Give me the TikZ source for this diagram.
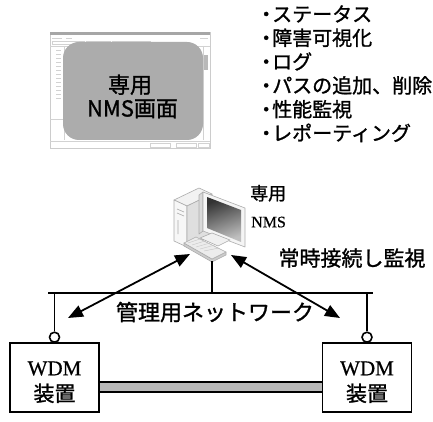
\documentclass[tikz,border=0pt]{standalone}
\usepackage{fontspec}
\usepackage{tikz}
\usetikzlibrary{shapes.geometric, arrows, arrows.meta, positioning}
\newfontfamily\jp[FakeBold=1.2]{Noto Sans CJK JP}
\newfontfamily\tms[FakeBold=0.6]{Liberation Serif}
\tikzstyle{wdmbox} = [rectangle, draw=black, line width=1.8pt, minimum width=89pt, minimum height=69pt, inner sep=0pt]
\tikzstyle{wdmtext} = [align=center, inner sep=0pt, font=\fontsize{21}{26}\selectfont]
\tikzstyle{port} = [circle, draw=black, line width=1.6pt, fill=white, minimum size=10pt, inner sep=0pt]
\tikzstyle{bus} = [line width=1.8pt]
\tikzstyle{arrow} = [line width=1.8pt, <->, >={Stealth[length=15pt,width=12pt,inset=0pt]}]
\tikzstyle{pcface} = [draw=gray!65, line width=0.6pt, line join=round]
\tikzstyle{shot} = [draw=gray!35, line width=0.5pt]

\begin{document}
\begin{tikzpicture}[x=1pt, y=-1pt]
  \useasboundingbox (0,0) rectangle (433,422);

  % NMS screen snapshot
  \node (screen) [rectangle, draw=gray!40, fill=white, minimum width=160pt, minimum height=116pt, inner sep=0pt] at (130,90) {};
  \fill[gray!70] (50,32) rectangle (210,35);
  \draw[shot] (52,38) -- (62,38) (66,38) -- (72,38) (200,38) -- (208,38);
  \draw[shot] (52,41) rectangle (84,44) (86,41) rectangle (110,44) (112,41) rectangle (150,44);
  \draw[shot] (50,46) -- (210,46) (64,46) -- (64,140);
  \foreach \k in {50,54,...,98}
    \draw[shot] (56,\k) -- (61,\k);
  \draw[shot] (50,119) -- (64,119);
  \fill[gray!55] (203,55) rectangle (208,70);
  \draw[shot] (203,46) -- (203,140) (50,141) -- (210,141);
  \draw[shot] (150,143) rectangle (170,147) (176,143) rectangle (196,147) (198,143) rectangle (209,147);
  \node (panel) [rectangle, rounded corners=16pt, fill=gray!65, minimum width=140pt, minimum height=98pt] at (133,91) {};
  \node (panel1) [anchor=base, font=\jp\fontsize{22}{24}\selectfont] at (130,93) {専用};
  \node (panel2) [anchor=base, font=\jp\fontsize{22}{24}\selectfont] at (132.5,116.5) {NMS画面};

  % function list
  \foreach \txt [count=\i] in {ステータス, 障害可視化, ログ, パスの追加、削除, 性能監視, レポーティング}
    \node (item\i) [anchor=base west, inner sep=0pt, font=\jp\fontsize{20}{24}\selectfont] at (256,{21.6+23.8*(\i-1)}) {・\kern-4pt\txt};

  % NMS computer: tower
  \draw[pcface, fill=gray!10] (174,200) -- (199,188) -- (212,194) -- (187,206) -- cycle;
  \draw[pcface, fill=gray!6] (174,200) -- (187,206) -- (187,247) -- (174,241) -- cycle;
  \draw[pcface, fill=gray!25] (187,206) -- (212,194) -- (212,235) -- (187,247) -- cycle;
  \draw[pcface] (177,209) -- (184,212) (177,213) -- (184,216) (178,220) -- (178,234);
  % monitor
  \draw[pcface, fill=gray!30] (199,195) -- (203,192) -- (203,231) -- (199,234) -- cycle;
  \draw[pcface, fill=gray!8] (203,192) -- (245,208) -- (245,247) -- (203,231) -- cycle;
  \shade[top color=black!80, bottom color=black!25, shading angle=20] (207,197) -- (241,210) -- (241,242) -- (207,228) -- cycle;
  \draw[pcface, fill=gray!12] (200,238) -- (212,233) -- (230,240) -- (218,246) -- cycle;
  % keyboard
  \draw[pcface, fill=gray!40] (184,243) -- (212,259) -- (226,252) -- (226,255) -- (212,262) -- (184,246) -- cycle;
  \draw[pcface, fill=gray!15] (184,243) -- (196,237) -- (226,252) -- (212,259) -- cycle;
  \draw[gray!45, line width=0.4pt] (188,243) -- (200,239) (192,245) -- (205,241) (196,247) -- (210,243) (200,249) -- (215,245) (204,251) -- (219,248);
  \coordinate (pcfoot) at (212,261);

  \node (pcname1) [anchor=base west, inner sep=0pt, font=\jp\fontsize{18}{20}\selectfont] at (250,200) {専用};
  \node (pcname2) [anchor=base west, inner sep=0pt, font=\tms\fontsize{16}{18}\selectfont] at (251,227.3) {NMS};

  % management network
  \coordinate (busL) at (48,293);
  \coordinate (busR) at (373,293);
  \draw[bus] (busL) -- (busR);
  \draw[bus] (pcfoot) -- (pcfoot |- busL);

  \node (left) [wdmbox] at (54.5,377.5) {};
  \node (right) [wdmbox] at (367,377.5) {};
  \node (lefttext) [wdmtext] at ([yshift=-4.75pt]left.center) {{\tms WDM}\\{\jp 装置}};
  \node (righttext) [wdmtext] at ([yshift=-4.75pt]right.center) {{\tms WDM}\\{\jp 装置}};
  \node (portL) [port, above=-0.9pt of left.north] {};
  \node (portR) [port, above=-0.9pt of right.north] {};
  \draw[bus] (portL) -- (portL |- busL);
  \draw[bus] (portR) -- (portR |- busR);

  % optical link between the WDM units
  \draw[double=gray!55, double distance=8pt, line width=1.8pt] ([yshift=-9.5pt]left.east) -- ([yshift=-9.5pt]right.west);

  % monitoring arrows
  \coordinate (arrL1) at (68,318);
  \coordinate (arrL2) at (190,254);
  \coordinate (arrR1) at (231,255);
  \coordinate (arrR2) at (340,318);
  \draw[arrow] (arrL1) -- (arrL2);
  \draw[arrow] (arrR1) -- (arrR2);

  \node (watch) [anchor=base, inner sep=0pt, font=\jp\fontsize{21}{24}\selectfont] at (352,266) {常時接続し監視};
  \node (netname) [anchor=base, inner sep=0pt, font=\jp\fontsize{22}{24}\selectfont] at (215,320.4) {管理用ネットワーク};
\end{tikzpicture}
\end{document}
